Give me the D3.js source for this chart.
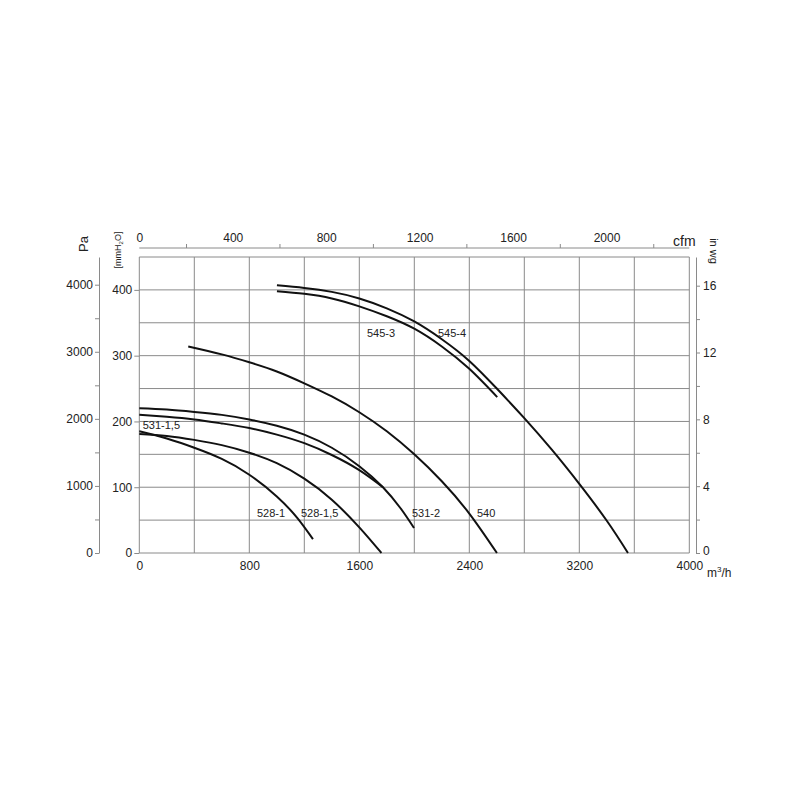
<!DOCTYPE html>
<html>
<head>
<meta charset="utf-8">
<script src="https://cdn.jsdelivr.net/npm/d3@7/dist/d3.min.js"></script>
<style>
  html, body { margin: 0; padding: 0; background: #fff; }
  svg { display: block; }
  text { font-family: "Liberation Sans", Arial, Helvetica, sans-serif; fill: #222; }
</style>
</head>
<body>
<script>
// ---------------- DATA ----------------
// flow in m3/h, pressure in mmH2O
const flowTicks = [0, 800, 1600, 2400, 3200, 4000];
const mmTicks = [0, 100, 200, 300, 400];
const paTicks = [0, 1000, 2000, 3000, 4000];
const cfmTicks = [0, 400, 800, 1200, 1600, 2000];
const inwgTicks = [0, 4, 8, 12, 16];

const seriesNames = ["528-1", "528-1,5", "531-1,5", "531-2", "540", "545-3", "545-4"];

const flow528_1  = [0, 200, 400, 600, 800, 1000, 1150, 1263];
const pres528_1  = [185, 174, 160, 143, 119, 86, 53, 21];

const flow528_15 = [0, 200, 400, 600, 800, 1000, 1200, 1400, 1600, 1761];
const pres528_15 = [181, 178, 172, 164, 152.5, 136.5, 113, 81, 39, 0];

const flow531_15 = [0, 200, 400, 600, 800, 1000, 1200, 1400, 1600, 1772];
const pres531_15 = [210, 207, 203, 197, 190, 180, 167, 149, 126, 100];

const flow531_2  = [0, 200, 400, 600, 800, 1000, 1200, 1400, 1600, 1772, 1900, 1998];
const pres531_2  = [220, 218, 214.5, 210, 203, 193.5, 180, 160, 132, 100, 68, 38];

const flow540    = [356, 600, 800, 1000, 1200, 1400, 1600, 1800, 2000, 2200, 2400, 2601];
const pres540    = [314, 302, 290, 276, 258, 238, 214, 185, 150, 109, 60, 0];

const flow545_3  = [1001, 1200, 1400, 1600, 1800, 2000, 2200, 2400, 2603];
const pres545_3  = [398, 394, 387, 375, 360, 341, 314, 280, 237];

const flow545_4  = [1001, 1200, 1400, 1600, 1800, 2000, 2200, 2400, 2600, 2800, 3000, 3200, 3400, 3554];
const pres545_4  = [407, 403, 397, 387, 372, 352, 325, 292, 250, 205, 157, 105, 49, 0];

// ---------------- LAYOUT ----------------
const W = 800, H = 800;
const X0 = 139.3, X1 = 689.3, Y0 = 553, Y1 = 257;
const FLOW_MAX = 4000, MM_MAX = 450;
const PA_PER_MM = 9.80665, MM_PER_INWG = 25.4, M3H_PER_CFM = 1.69901;
const gridColor = "#8a8a8a";
const fmt = d3.format("d");

const svg = d3.select("body").append("svg").attr("width", W).attr("height", H);
svg.append("rect").attr("width", W).attr("height", H).attr("fill", "#fff");

const x = d3.scaleLinear().domain([0, FLOW_MAX]).range([X0, X1]);
const y = d3.scaleLinear().domain([0, MM_MAX]).range([Y0, Y1]);
const yPa = d3.scaleLinear().domain([0, MM_MAX * PA_PER_MM]).range([Y0, Y1]);
const yIn = d3.scaleLinear().domain([0, MM_MAX / MM_PER_INWG]).range([Y0, Y1]);
const xCfm = d3.scaleLinear().domain([0, FLOW_MAX / M3H_PER_CFM]).range([X0, X1]);

// ---------------- GRID ----------------
const grid = svg.append("g");
d3.range(0, FLOW_MAX + 1, 400).forEach(v => {
  grid.append("line").attr("x1", x(v)).attr("x2", x(v)).attr("y1", y(0)).attr("y2", y(MM_MAX))
    .attr("stroke", gridColor).attr("stroke-width", 1);
});
d3.range(0, MM_MAX + 1, 50).forEach(v => {
  grid.append("line").attr("x1", x(0)).attr("x2", x(FLOW_MAX)).attr("y1", y(v)).attr("y2", y(v))
    .attr("stroke", gridColor).attr("stroke-width", 1);
});

function styleAxis(g, size) {
  g.attr("font-family", null).attr("font-size", null);
  g.selectAll("text").attr("font-size", size).style("fill", "#222");
  g.selectAll("line").attr("stroke", gridColor);
  g.selectAll("path.domain").attr("stroke", gridColor);
}

// left mmH2O axis
const gMm = svg.append("g").attr("transform", `translate(${X0},0)`)
  .call(d3.axisLeft(y).tickValues(mmTicks).tickSize(5).tickPadding(2).tickFormat(fmt));
gMm.select(".domain").remove();
styleAxis(gMm, 12);

// outer Pa axis
const paMinor = d3.range(0, 4001, 500);
const gPa = svg.append("g").attr("transform", "translate(99,0)")
  .call(d3.axisLeft(yPa).tickValues(paMinor).tickSize(4).tickSizeOuter(0).tickPadding(2)
    .tickFormat(d => paTicks.includes(d) ? fmt(d) : ""));
styleAxis(gPa, 12);

// right in wg axis
const inMinor = d3.range(0, 17, 2);
const gIn = svg.append("g").attr("transform", "translate(696,0)")
  .call(d3.axisRight(yIn).tickValues(inMinor).tickSize(4).tickSizeOuter(0).tickPadding(3)
    .tickFormat(d => inwgTicks.includes(d) ? fmt(d) : ""));
styleAxis(gIn, 12);
gIn.selectAll(".tick").filter(d => d === 0).select("text").attr("dy", "0.1em");

// top cfm axis
const cfmMinor = d3.range(200, 2201, 400);
const gCfmLine = svg.append("g").attr("transform", "translate(0,248)")
  .call(d3.axisTop(xCfm).tickValues(cfmMinor).tickSize(4).tickSizeOuter(0).tickFormat(""));
gCfmLine.select(".domain").attr("d", `M${X0},0H${X1}`);
styleAxis(gCfmLine, 12);
const gCfm = svg.append("g").attr("transform", "translate(0,248)")
  .call(d3.axisTop(xCfm).tickValues(cfmTicks).tickSize(0).tickPadding(6).tickFormat(fmt));
gCfm.select(".domain").remove();
styleAxis(gCfm, 12);

// bottom flow axis
const gFlow = svg.append("g").attr("transform", `translate(0,${Y0})`)
  .call(d3.axisBottom(x).tickValues(flowTicks).tickSize(0).tickPadding(8).tickFormat(fmt));
gFlow.select(".domain").remove();
styleAxis(gFlow, 12);

// axis titles
svg.append("text").attr("transform", "translate(88,244) rotate(-90)")
  .attr("text-anchor", "middle").attr("font-size", 13).text("Pa");
const mmT = svg.append("text").attr("transform", "translate(121,250) rotate(-90)")
  .attr("text-anchor", "middle").attr("font-size", 9);
mmT.append("tspan").text("[mmH");
mmT.append("tspan").attr("font-size", 6).attr("dy", 2).text("2");
mmT.append("tspan").attr("dy", -2).text("O]");
svg.append("text").attr("x", 673).attr("y", 246).attr("font-size", 14).text("cfm");
svg.append("text").attr("transform", "translate(710,251) rotate(90)")
  .attr("text-anchor", "middle").attr("font-size", 11).text("in wg");
const m3 = svg.append("text").attr("x", 707).attr("y", 577).attr("font-size", 12);
m3.append("tspan").text("m");
m3.append("tspan").attr("font-size", 8).attr("dy", -5).text("3");
m3.append("tspan").attr("dy", 5).text("/h");

// ---------------- CURVES ----------------
const curves = [
  [flow528_1, pres528_1], [flow528_15, pres528_15], [flow531_15, pres531_15],
  [flow531_2, pres531_2], [flow540, pres540], [flow545_3, pres545_3], [flow545_4, pres545_4]
];
const line = d3.line().x(d => x(d[0])).y(d => y(d[1])).curve(d3.curveNatural);
curves.forEach(([f, p]) => {
  svg.append("path").datum(f.map((v, i) => [v, p[i]]))
    .attr("d", line).attr("fill", "none").attr("stroke", "#111").attr("stroke-width", 2);
});

// curve labels (anchor in data units: flow, pressure)
const labelAnchor = {
  "528-1": [856, 55], "528-1,5": [1176, 55], "531-1,5": [25, 188], "531-2": [1983, 55],
  "540": [2456, 55], "545-3": [1656, 328], "545-4": [2172, 328]
};
seriesNames.forEach(n => {
  const a = labelAnchor[n];
  svg.append("text").attr("x", x(a[0])).attr("y", y(a[1])).attr("font-size", 11).text(n);
});
</script>
</body>
</html>
